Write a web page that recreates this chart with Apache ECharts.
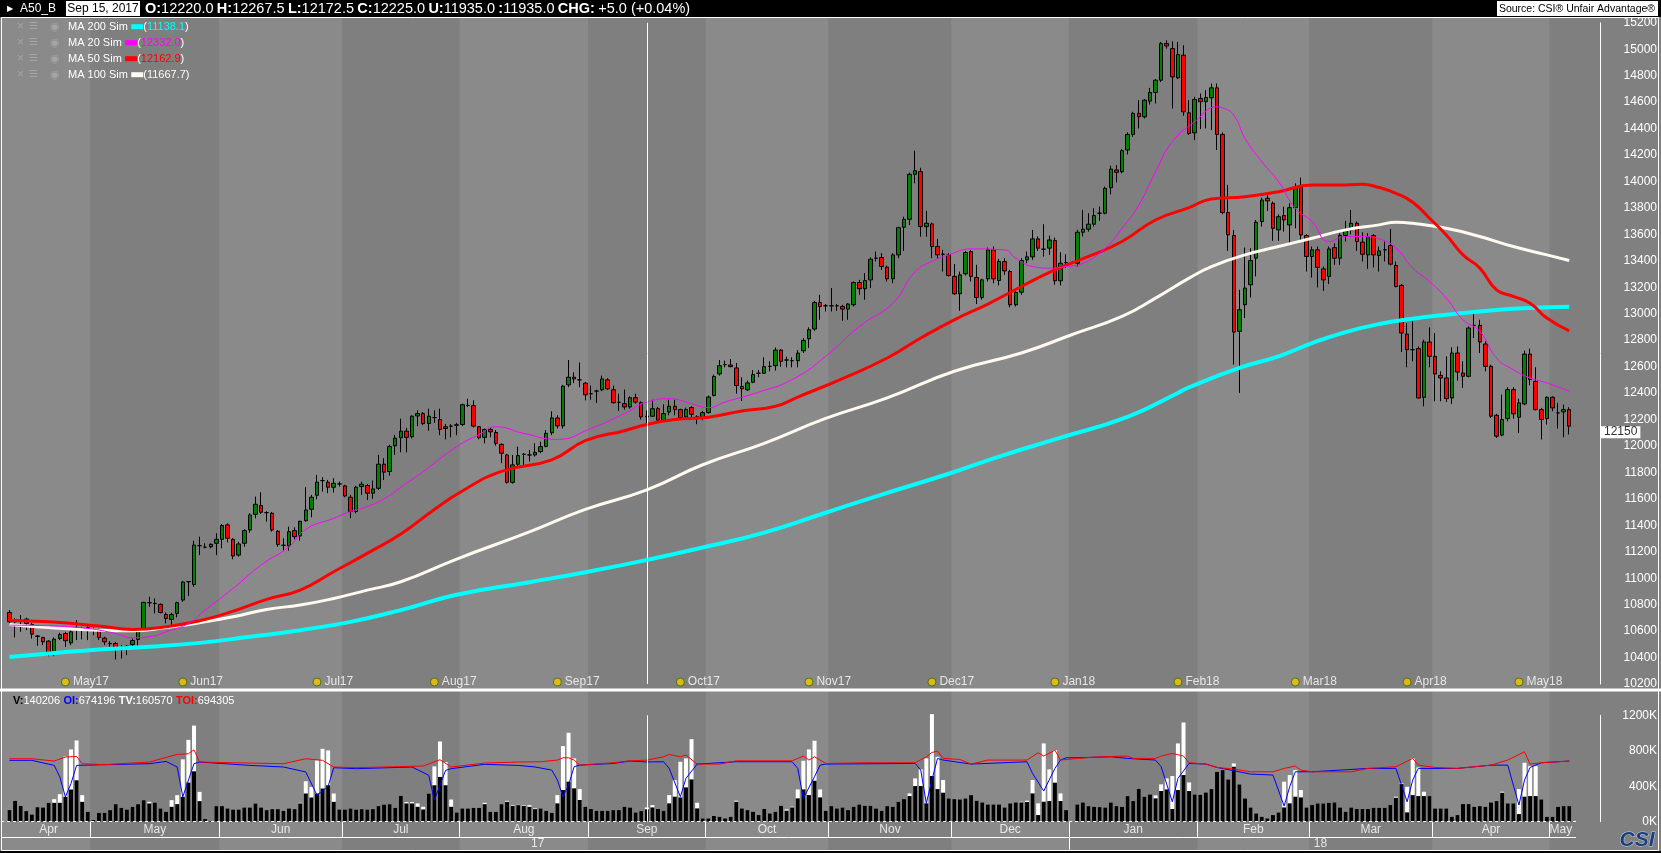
<!DOCTYPE html>
<html>
<head>
<meta charset="utf-8">
<title>A50_B</title>
<script src="https://cdn.jsdelivr.net/npm/echarts@6.0.0/dist/echarts.min.js"></script>
<style>
html, body { margin: 0; padding: 0; background: #808080; }
#main { width: 1661px; height: 853px; }
</style>
</head>
<body>
<div id="main"></div>
<script>
// trading slots: every weekday from 10 Apr 2017 to 4 May 2018
var monthKeys = ['2017-04','2017-05','2017-06','2017-07','2017-08','2017-09','2017-10','2017-11','2017-12','2018-01','2018-02','2018-03','2018-04','2018-05'];
var monthNames = ['Apr','May','Jun','Jul','Aug','Sep','Oct','Nov','Dec','Jan','Feb','Mar','Apr','May'];
var monthDays = [
    [10,11,12,13,14,17,18,19,20,21,24,25,26,27,28],
    [1,2,3,4,5,8,9,10,11,12,15,16,17,18,19,22,23,24,25,26,29,30,31],
    [1,2,5,6,7,8,9,12,13,14,15,16,19,20,21,22,23,26,27,28,29,30],
    [3,4,5,6,7,10,11,12,13,14,17,18,19,20,21,24,25,26,27,28,31],
    [1,2,3,4,7,8,9,10,11,14,15,16,17,18,21,22,23,24,25,28,29,30,31],
    [1,4,5,6,7,8,11,12,13,14,15,18,19,20,21,22,25,26,27,28,29],
    [2,3,4,5,6,9,10,11,12,13,16,17,18,19,20,23,24,25,26,27,30,31],
    [1,2,3,6,7,8,9,10,13,14,15,16,17,20,21,22,23,24,27,28,29,30],
    [1,4,5,6,7,8,11,12,13,14,15,18,19,20,21,22,25,26,27,28,29],
    [1,2,3,4,5,8,9,10,11,12,15,16,17,18,19,22,23,24,25,26,29,30,31],
    [1,2,5,6,7,8,9,12,13,14,15,16,19,20,21,22,23,26,27,28],
    [1,2,5,6,7,8,9,12,13,14,15,16,19,20,21,22,23,26,27,28,29,30],
    [2,3,4,5,6,9,10,11,12,13,16,17,18,19,20,23,24,25,26,27,30],
    [1,2,3,4]
];
var padSlots = 5;   // empty room right of the last bar

// daily bars [open, close, low, high]
var ohlc = [
// Apr 2017
[10741,10670,10658,10759],[10670,10672,10552,10696],[10678,10680,10595,10721],[10691,10658,10607,10701],[10650,10577,10544,10663],
[10563,10560,10489,10569],[10552,10519,10494,10557],[10524,10431,10410,10532],[10425,10539,10410,10552],[10544,10574,10532,10587],
[10582,10527,10481,10595],[10511,10595,10494,10607],[10620,10622,10532,10683],[10620,10620,10537,10633],[10625,10625,10532,10638],
// May
[10612,10614,10569,10627],[10612,10552,10532,10620],[10547,10519,10494,10557],[10506,10504,10481,10524],[10506,10466,10385,10519],
[10461,10460,10393,10494],[10461,10486,10418,10494],[10499,10529,10481,10544],[10537,10600,10489,10620],[10607,10817,10595,10822],
[10815,10815,10784,10860],[10810,10808,10734,10847],[10802,10741,10734,10809],[10726,10696,10658,10741],[10688,10726,10645,10739],
[10734,10815,10703,10822],[10835,10971,10822,10978],[10973,10975,10865,10978],[10953,11251,10936,11284],[11246,11246,11175,11314],
[11234,11234,11226,11264],[11238,11256,11226,11264],[11264,11294,11175,11340],
// Jun
[11294,11398,11226,11410],[11403,11302,11271,11415],[11294,11168,11143,11302],[11175,11259,11163,11276],[11264,11360,11238,11370],
[11365,11478,11345,11491],[11483,11559,11453,11617],[11549,11499,11486,11650],[11496,11496,11428,11506],[11491,11365,11352,11501],
[11355,11256,11238,11365],[11249,11249,11208,11302],[11244,11352,11208,11390],[11360,11314,11294,11385],[11319,11430,11284,11435],
[11435,11516,11428,11688],[11521,11612,11461,11630],[11627,11726,11597,11781],[11738,11738,11655,11764],[11726,11688,11643,11743],
[11688,11718,11648,11756],[11713,11713,11693,11731],
// Jul
[11698,11622,11612,11706],[11612,11504,11454,11630],[11504,11688,11491,11698],[11693,11711,11630,11731],[11701,11643,11592,11713],
[11643,11675,11600,11738],[11680,11862,11668,11933],[11862,11802,11743,11908],[11807,11996,11776,12009],[12001,12059,11933,12084],
[12062,12112,11952,12207],[12112,12065,11952,12137],[12070,12225,12057,12232],[12227,12245,12150,12270],[12245,12170,12157,12257],
[12170,12225,12115,12282],[12215,12215,12175,12270],[12200,12125,12082,12282],[12132,12145,12050,12165],[12150,12150,12065,12165],
[12157,12160,12082,12175],
// Aug
[12162,12312,12150,12320],[12307,12307,12295,12357],[12305,12150,12140,12345],[12145,12062,12050,12152],[12065,12125,12020,12132],
[12125,12107,12065,12137],[12102,12020,12002,12120],[12012,11945,11870,12020],[11932,11725,11715,11940],[11725,11857,11715,11932],
[11862,11927,11845,11995],[11937,11937,11857,11945],[11932,11932,11882,11970],[11932,11952,11920,12020],[11957,11995,11945,12032],
[11997,12095,11990,12120],[12100,12212,12082,12262],[12212,12152,12132,12232],[12152,12452,12132,12462],[12462,12520,12445,12650],
[12520,12507,12475,12557],[12500,12500,12445,12632],[12475,12387,12345,12482],
// Sep
[12395,12395,12350,12457],[12415,12415,12325,12425],[12425,12507,12415,12532],[12500,12432,12425,12512],[12425,12327,12320,12457],
[12330,12330,12265,12395],[12320,12295,12275,12427],[12295,12365,12282,12375],[12365,12332,12320,12395],[12327,12220,12200,12337],
[12220,12225,12172.5,12267.5],[12225,12282,12220,12350],[12282,12195,12190,12295],[12195,12245,12190,12315],[12257,12300,12232,12350],
[12300,12275,12232,12350],[12275,12215,12207,12282],[12220,12275,12215,12290],[12290,12240,12215,12300],[12220,12220,12165,12232],
[12207,12252,12195,12265],
// Oct
[12252,12370,12245,12382],[12382,12525,12375,12540],[12545,12607,12532,12650],[12615,12615,12595,12645],[12612,12600,12595,12657],
[12590,12457,12395,12627],[12450,12432,12340,12520],[12425,12477,12415,12495],[12482,12540,12475,12575],[12550,12550,12520,12575],
[12550,12600,12545,12670],[12602,12602,12565,12640],[12607,12725,12570,12745],[12725,12640,12600,12732],[12650,12650,12595,12675],
[12645,12645,12595,12670],[12645,12702,12595,12725],[12720,12798,12703,12816],[12811,12879,12741,12897],[12884,13085,12871,13098],
[13085,13055,12954,13143],[13060,13060,13017,13073],
// Nov
[13060,13060,13017,13194],[13060,13060,13022,13073],[13055,13035,12947,13068],[13035,13073,12954,13080],[13068,13236,13055,13244],
[13236,13189,13143,13256],[13189,13251,13106,13307],[13256,13412,13194,13425],[13420,13420,13395,13470],[13425,13357,13332,13458],
[13352,13264,13244,13365],[13264,13445,13231,13458],[13445,13651,13420,13659],[13654,13714,13475,13734],[13714,14054,13671,14067],
[14054,14082,13986,14233],[14074,13659,13583,14104],[13659,13684,13583,13777],[13679,13508,13420,13689],[13508,13445,13415,13566],
[13450,13450,13319,13483],[13445,13289,13282,13458],
// Dec
[13282,13151,13143,13375],[13151,13294,13022,13319],[13302,13463,13289,13475],[13470,13282,13244,13483],[13274,13123,13073,13370],
[13123,13256,13106,13264],[13264,13483,13244,13500],[13483,13264,13231,13508],[13251,13395,13214,13415],[13395,13324,13294,13420],
[13319,13068,13048,13332],[13068,13161,13055,13173],[13163,13402,13143,13420],[13407,13430,13382,13470],[13430,13566,13407,13634],
[13566,13496,13475,13584],[13488,13488,13432,13677],[13496,13558,13445,13591],[13553,13249,13219,13576],[13249,13382,13214,13465],
[13387,13387,13345,13450],
// Jan 2018 (no bar on 1 Jan)
'-',
[13382,13616,13357,13634],[13616,13639,13584,13785],[13639,13677,13621,13760],[13677,13742,13659,13797],[13760,13760,13702,13810],
[13760,13948,13752,13961],[13953,14094,13903,14119],[14087,14069,13994,14124],[14074,14233,14062,14245],[14238,14356,14205,14371],
[14356,14515,14338,14527],[14515,14489,14401,14615],[14489,14615,14477,14623],[14608,14673,14582,14708],[14673,14766,14590,14774],
[14766,15043,14753,15055],[15043,15025,15005,15068],[15005,14791,14552,15060],[14784,14960,14774,15055],[14955,14527,14497,15030],
[14519,14363,14351,14615],[14368,14620,14313,14640],
// Feb
[14628,14603,14396,14665],[14603,14635,14401,14691],[14633,14708,14389,14741],[14708,14356,14238,14741],[14356,13765,13752,14371],
[13765,13596,13475,13974],[13591,12861,12615,13634],[12867,13030,12401,13181],[13068,13194,12967,13500],[13219,13402,13123,13495],
[13420,13692,13282,13709],[13697,13860,13659,13878],[13873,13853,13777,13911],[13835,13646,13551,13848],[13634,13734,13551,13752],
[13742,13709,13621,13810],[13671,13802,13526,13835],[13802,13953,13646,13986],[13961,13596,13546,14029],[13591,13433,13319,13601],
// Mar
[13433,13483,13274,13508],[13483,13350,13199,13508],[13339,13256,13173,13357],[13282,13490,13224,13508],[13500,13420,13370,13533],
[13420,13591,13370,13609],[13591,13634,13546,13702],[13634,13684,13601,13785],[13684,13546,13475,13697],[13541,13450,13395,13616],
[13445,13583,13339,13609],[13591,13445,13350,13601],[13440,13475,13319,13508],[13483,13483,13395,13546],[13516,13375,13365,13641],
[13365,13206,13199,13395],[13214,12854,12710,13224],[12846,12728,12595,12929],[12728,12728,12640,12967],[12736,12363,12358,12753],
[12368,12786,12300,12803],[12786,12678,12595,12897],
// Apr
[12678,12544,12338,12854],[12534,12514,12338,12565],[12514,12358,12333,12678],[12363,12703,12318,12746],[12703,12559,12494,12753],
[12552,12527,12439,12640],[12527,12892,12519,12904],[12912,12912,12816,12997],[12912,12786,12703,12955],[12771,12602,12564,12791],
[12602,12225,12212,12615],[12232,12074,12061,12243],[12082,12200,12074,12389],[12207,12426,12187,12444],[12426,12243,12207,12444],
[12217,12326,12099,12358],[12318,12695,12308,12721],[12695,12502,12459,12736],[12489,12275,12268,12595],[12275,12200,12049,12288],
[12207,12368,12162,12376],
// May
[12368,12288,12263,12376],[12250,12250,12132,12326],[12258,12275,12066,12313],[12275,12150,12087,12293]
];

// moving averages: [slot, value]
var ma200 = [[0,10405],[7,10430],[16,10461],[25,10481],[34,10511],[43,10557],[52,10607],[61,10670],[70,10759],[80,10875],[93,10970],[103,11045],[114,11138],[124,11232],[135,11345],[146,11495],[156,11632],[168,11790],[177,11920],[187,12050],[200,12220],[209,12401],[211,12444],[220,12590],[227,12678],[233,12778],[239,12861],[245,12922],[251,12962],[257,12992],[263,13017],[269,13037],[279,13052]];
var ma100 = [[0,10650],[7,10627],[16,10607],[22,10602],[28,10627],[34,10663],[40,10708],[46,10764],[52,10797],[58,10847],[64,10910],[70,10973],[80,11145],[93,11350],[103,11520],[114,11668],[124,11858],[135,12020],[146,12208],[157,12363],[169,12565],[181,12703],[190,12841],[199,12980],[205,13118],[211,13269],[215,13357],[221,13445],[227,13508],[233,13571],[239,13634],[245,13672],[248,13692],[251,13684],[257,13646],[263,13584],[269,13508],[275,13445],[279,13402]];
var ma50 = [[0,10683],[7,10670],[16,10639],[22,10613],[28,10633],[34,10678],[40,10751],[46,10840],[52,10910],[58,11049],[64,11188],[70,11334],[76,11520],[81,11660],[88,11808],[97,11895],[103,12040],[110,12115],[114,12163],[119,12200],[125,12218],[131,12265],[137,12300],[141,12370],[149,12509],[157,12665],[163,12816],[169,12954],[175,13073],[181,13206],[187,13332],[193,13433],[199,13546],[205,13709],[211,13802],[215,13868],[221,13885],[227,13923],[233,13974],[239,13974],[242,13979],[245,13954],[248,13911],[251,13843],[254,13722],[257,13596],[260,13445],[263,13345],[266,13181],[269,13131],[272,13080],[275,12967],[279,12871]];
var ma20 = [[0,10645],[7,10640],[14,10620],[19,10582],[22,10549],[25,10557],[28,10595],[32,10658],[35,10759],[40,10923],[45,11100],[50,11238],[53,11370],[58,11453],[61,11504],[64,11542],[67,11600],[70,11688],[74,11807],[80,11995],[84,12087],[87,12145],[92,12095],[98,12050],[104,12132],[110,12245],[114,12332],[118,12357],[122,12320],[125,12290],[128,12332],[134,12407],[140,12502],[146,12678],[152,12904],[158,13080],[162,13319],[165,13395],[168,13445],[172,13490],[178,13483],[180,13420],[183,13357],[186,13345],[189,13357],[192,13382],[196,13496],[199,13646],[202,13822],[205,14074],[208,14301],[212,14452],[216,14565],[217,14557],[219,14502],[221,14326],[224,14150],[227,13999],[230,13797],[233,13697],[236,13546],[239,13584],[242,13584],[245,13566],[248,13496],[251,13345],[254,13244],[257,13118],[260,12954],[263,12867],[266,12665],[269,12577],[272,12514],[275,12477],[279,12414]];

// volume (K): V = contract volume, TV = total volume
var volV = [
131,235,179,120,82,164,161,213,213,213, 280,363,467,224,112,19,101,101,131,198,
157,138,168,198,243,206,217,150,112,168, 198,280,441,568,232,30,11,176,176,150,
138,138,161,161,206,161,131,142,142,123, 150,142,206,318,273,318,374,411,224,138,
138,150,138,142,138,142,176,194,198,157, 292,206,206,168,138,318,411,505,411,168,
105,150,150,157,157,198,112,112,198,224, 179,187,179,168,142,150,124,101,207,357,
451,376,245,169,143,124,124,124,131,131, 169,161,105,120,140,161,143,124,207,282,
274,387,477,150,38,38,64,56,38,56, 225,150,131,113,75,143,94,113,180,124,
161,263,364,300,462,274,124,176,150,161, 131,169,195,180,180,150,124,176,169,225,
255,289,402,402,207,515,368,327,263,255, 252,263,300,237,218,195,195,195,161,207,
218,218,222,319,75,225,233,440,233,131, '-',195,218,176,169,165,161,218,176,169,
289,233,372,282,308,263,346,364,143,357, 526,346,308,304,330,368,563,582,477,620,
421,263,161,94,56,38,75,105,161,207, 282,274,161,188,207,207,214,218,161,113,
161,143,143,143,158,158,158,188,270,424, 105,300,289,289,289,150,150,150,56,75,
199,199,169,176,169,218,233,327,207,207, 86,282,289,289,252,56,56,169,176,176
];
var volTV = [
131,235,179,120,82,164,161,213,254,310, 736,815,916,299,112,19,101,101,131,198,
157,138,168,198,243,224,217,150,112,243, 299,703,923,1084,336,30,11,176,176,150,
138,138,161,161,206,161,131,142,142,123, 150,142,213,456,392,692,822,804,318,138,
138,150,138,142,138,142,176,194,198,157, 292,221,221,206,168,318,624,905,673,250,
105,150,150,157,157,213,112,112,198,235, 187,190,187,187,150,150,124,101,300,853,
1003,714,368,169,143,124,124,124,131,131, 169,161,105,120,161,187,143,124,300,470,
676,714,931,214,38,38,64,56,38,56, 237,150,131,113,75,143,94,113,180,139,
169,364,687,815,913,364,124,176,150,161, 131,169,195,180,180,150,124,176,169,225,
255,319,488,590,714,1213,732,470,263,255, 252,263,300,237,218,195,195,195,161,207,
218,225,237,470,207,883,590,808,319,131, '-',195,218,176,169,165,161,218,176,169,
289,233,372,282,308,297,421,488,515,883, 1119,443,308,304,330,368,563,582,477,657,
421,263,161,94,56,38,75,105,451,526, 582,357,161,188,207,207,214,218,161,113,
161,143,143,143,158,158,158,188,282,432, 394,714,612,338,289,150,150,150,56,75,
199,199,169,176,169,218,233,338,207,207, 368,665,627,627,252,56,56,169,176,176
];
// open interest (K): OI of the contract and total OI, [slot, value]
var oiPts = [[0,692],[4,692],[8,635],[9,505],[10,280],[11,430],[12,635],[17,643],[25,654],[28,680],[30,617],[31,280],[33,654],[34,673],[43,635],[49,617],[53,561],[55,299],[57,400],[58,609],[62,598],[72,617],[75,523],[76,243],[78,579],[79,598],[85,647],[91,635],[94,617],[97,582],[98,470],[99,282],[100,413],[101,620],[102,638],[108,657],[111,684],[114,674],[117,676],[118,601],[120,282],[121,488],[123,650],[130,676],[140,676],[141,601],[142,263],[144,507],[145,638],[146,650],[162,657],[163,582],[164,207],[165,470],[166,714],[167,695],[172,650],[182,676],[183,545],[185,346],[187,601],[188,695],[189,721],[191,721],[197,732],[200,714],[205,695],[206,620],[208,225],[209,488],[211,657],[214,650],[216,612],[222,537],[226,526],[228,177],[229,394],[230,563],[233,563],[243,601],[248,601],[250,225],[251,470],[252,601],[259,601],[265,638],[268,638],[270,188],[271,470],[272,612],[274,665],[279,684]];
var toiPts = [[0,710],[4,710],[8,684],[10,729],[12,736],[13,654],[17,643],[25,673],[30,759],[32,766],[33,811],[34,673],[40,665],[49,654],[53,710],[56,692],[58,617],[62,609],[74,628],[77,699],[79,617],[85,662],[91,673],[95,676],[98,695],[99,721],[100,721],[101,695],[102,638],[108,665],[111,687],[114,694],[117,732],[118,759],[120,732],[121,751],[123,650],[127,650],[130,687],[140,687],[142,740],[143,695],[144,732],[146,657],[153,665],[162,665],[164,732],[165,781],[166,796],[167,714],[170,702],[172,650],[175,695],[182,695],[184,777],[185,740],[187,807],[188,695],[191,714],[195,732],[200,740],[201,714],[205,714],[206,740],[208,770],[210,740],[211,665],[214,650],[216,612],[219,593],[222,563],[226,563],[228,601],[230,627],[231,582],[233,563],[240,563],[243,601],[248,620],[251,714],[252,638],[255,612],[259,601],[265,638],[268,695],[271,789],[272,650],[274,665],[279,684]];

// contract roll markers on the price chart
var rollSlots = [10,31,55,76,98,120,143,165,187,209,230,250,270];
var rollNames = ['May17','Jun17','Jul17','Aug17','Sep17','Oct17','Nov17','Dec17','Jan18','Feb18','Mar18','Apr18','May18'];

var cursorSlot = 114;   // Sep 15, 2017
var lastPrice = 12150;

// ---- derived layout helpers ----
var dates = [];
var monthStart = [], monthEnd = [];
monthKeys.forEach(function (m, i) {
    monthStart.push(dates.length);
    monthDays[i].forEach(function (d) { dates.push(m + '-' + (d < 10 ? '0' + d : d)); });
    monthEnd.push(dates.length - 1);
});
var nData = dates.length;
for (var k = 0; k < padSlots; k++) dates.push('pad' + k);
var nSlots = dates.length;
var yearStart = monthStart[9];

var LIGHT = '#8a8a8a', DARK = '#7f7f7f';
var bands = monthStart.map(function (s, i) {
    var a = i === 0 ? -1.5 : s - 0.5;
    var b = i === monthStart.length - 1 ? nSlots - 0.5 : monthEnd[i] + 0.5;
    return [{ xAxis: a, itemStyle: { color: i % 2 === 0 ? LIGHT : DARK } }, { xAxis: b }];
});

// time scale under the volume panel, in pixel rows of the background grid (top = 18)
var rowBase = 803.7, rowMid = 819, rowEnd = 832;
var scaleEnd = nData + 0.2;
var timeLabels = monthStart.map(function (s, i) {
    return { name: monthNames[i], value: [(s + monthEnd[i]) / 2, 811.5] };
});
timeLabels.push({ name: '17', value: [(yearStart - 1) / 2, 826] });
timeLabels.push({ name: '18', value: [(yearStart + nData - 1) / 2, 826] });
var timeLines = [];
monthStart.forEach(function (s, i) {
    if (i > 0) timeLines.push([{ coord: [s - 0.5, rowBase] }, { coord: [s - 0.5, rowMid] }]);
});
timeLines.push([{ coord: [yearStart - 0.5, rowMid] }, { coord: [yearStart - 0.5, rowEnd] }]);
timeLines.push([{ coord: [-1.5, rowMid] }, { coord: [scaleEnd, rowMid] }]);
timeLines.push([{ coord: [-1.5, rowBase], lineStyle: { type: [3, 3] } }, { coord: [scaleEnd, rowBase] }]);

var FONT = '"Liberation Sans", Arial, sans-serif';
var slotW = 5.5905;
var gridL = 6.7, gridW = slotW * nSlots;

var myChart = echarts.init(document.getElementById('main'), null, { width: 1661, height: 853 });

var dotted = { color: '#d4d4d4', width: 1, type: [1, 8] };

function legendRow(y, name, color, val) {
    return [
        { type: 'text', z: 101, x: 17, y: y, style: { text: '\u00d7', fill: '#a6a6a6', font: '12px ' + FONT, verticalAlign: 'middle' } },
        { type: 'text', z: 101, x: 29, y: y, style: { text: '\u2630', fill: '#a6a6a6', font: '10px ' + FONT, verticalAlign: 'middle' } },
        { type: 'text', z: 101, x: 50, y: y, style: { text: '\u25c9', fill: '#a6a6a6', font: '11px ' + FONT, verticalAlign: 'middle' } },
        { type: 'text', z: 101, x: 68, y: y, style: {
            text: '{t|' + name + '} {s| }{t|(}{v|' + val + '}{t|)}',
            verticalAlign: 'middle',
            rich: {
                t: { fill: '#ffffff', fontSize: 11, fontFamily: FONT },
                s: { width: 12, height: 5, backgroundColor: color, fontSize: 5 },
                v: { fill: color, fontSize: 11, fontFamily: FONT }
            }
        } }
    ];
}

var graphics = [
    { type: 'rect', z: 100, shape: { x: 0, y: 0, width: 1661, height: 17 }, style: { fill: '#000' } },
    { type: 'rect', z: 100, shape: { x: 0, y: 851, width: 1661, height: 2 }, style: { fill: '#000' } },
    { type: 'rect', z: 100, shape: { x: 1.5, y: 17.5, width: 1657, height: 833 }, style: { fill: 'none', stroke: '#ffffff', lineWidth: 1 } },
    { type: 'line', z: 100, shape: { x1: 0, y1: 690, x2: 1661, y2: 690 }, style: { stroke: '#ffffff', lineWidth: 3 } },
    { type: 'text', z: 101, x: 7, y: 9, style: { text: '\u25b6', fill: '#ffffff', font: '8px ' + FONT, verticalAlign: 'middle' } },
    { type: 'text', z: 101, x: 20, y: 9, style: { text: 'A50_B', fill: '#ffffff', font: '12px ' + FONT, verticalAlign: 'middle' } },
    { type: 'rect', z: 100, shape: { x: 66, y: 1, width: 74, height: 15 }, style: { fill: '#ffffff' } },
    { type: 'text', z: 101, x: 103, y: 9, style: { text: 'Sep 15, 2017', fill: '#000', font: '12px ' + FONT, align: 'center', verticalAlign: 'middle' } },
    { type: 'text', z: 101, x: 145, y: 9, style: {
        text: '{b|O:}{n|12220.0} {b|H:}{n|12267.5} {b|L:}{n|12172.5} {b|C:}{n|12225.0} {b|U:}{n|11935.0} {b|:}{n|11935.0} {b|CHG:} {n|+5.0 (+0.04%)}',
        verticalAlign: 'middle',
        rich: {
            b: { fill: '#ffffff', fontSize: 14.5, fontWeight: 'bold', fontFamily: FONT },
            n: { fill: '#ffffff', fontSize: 14.5, fontFamily: FONT }
        }
    } },
    { type: 'rect', z: 100, shape: { x: 1497, y: 1, width: 161, height: 15 }, style: { fill: '#ffffff' } },
    { type: 'text', z: 101, x: 1577, y: 9, style: { text: 'Source: CSI\u00ae Unfair Advantage\u00ae', fill: '#000', font: '10.5px ' + FONT, align: 'center', verticalAlign: 'middle' } },
    { type: 'text', z: 101, x: 13, y: 701, style: {
        text: '{k|V:}{w|140206} {bl|OI:}{w|674196} {wb|TV:}{w|160570} {r|TOI:}{w|694305}',
        verticalAlign: 'middle',
        rich: {
            k: { fill: '#000000', fontSize: 11, fontWeight: 'bold', fontFamily: FONT },
            bl: { fill: '#0000ff', fontSize: 11, fontWeight: 'bold', fontFamily: FONT },
            wb: { fill: '#ffffff', fontSize: 11, fontWeight: 'bold', fontFamily: FONT },
            r: { fill: '#ff0000', fontSize: 11, fontWeight: 'bold', fontFamily: FONT },
            w: { fill: '#ffffff', fontSize: 11, fontFamily: FONT }
        }
    } },
    { type: 'text', z: 101, x: 1637, y: 840, style: { text: 'CSI', fill: '#1d3f7a', stroke: '#c9d3e6', lineWidth: 1, font: 'italic 900 21px ' + FONT, align: 'center', verticalAlign: 'middle' } }
];
graphics = graphics
    .concat(legendRow(26.7, 'MA 200 Sim', '#00ffff', '11138.1'))
    .concat(legendRow(42.7, 'MA 20 Sim', '#ff00ff', '12332.0'))
    .concat(legendRow(58.7, 'MA 50 Sim', '#ff0000', '12162.9'))
    .concat(legendRow(74.7, 'MA 100 Sim', '#fffaf0', '11667.7'));

function maLine(name, data, color, width) {
    return {
        name: name, type: 'line', xAxisIndex: 0, yAxisIndex: 0,
        data: data, smooth: true, symbol: 'none', silent: true,
        lineStyle: { color: color, width: width }
    };
}

option = {
    backgroundColor: '#808080',
    animation: false,
    textStyle: { fontFamily: FONT },
    grid: [
        { left: gridL, width: gridW, top: 22.8, height: 661.2, outerBoundsMode: 'none' },
        { left: gridL, width: gridW, top: 715.3, height: 106.4, outerBoundsMode: 'none' },
        { left: gridL - slotW, width: gridW + slotW, top: 18, height: 832, outerBoundsMode: 'none' }
    ],
    xAxis: [
        { type: 'category', gridIndex: 0, data: dates, boundaryGap: true, show: false },
        { type: 'category', gridIndex: 1, data: dates, boundaryGap: true, show: false },
        { type: 'value', gridIndex: 2, min: -1.5, max: nSlots - 0.5, show: false }
    ],
    yAxis: [
        {
            type: 'value', gridIndex: 0, position: 'right', min: 10200, max: 15200, interval: 200,
            axisLine: { show: true, lineStyle: { color: '#ffffff' } },
            axisTick: { show: false },
            axisLabel: { color: '#ffffff', fontSize: 12, align: 'right', margin: 57, formatter: function (v) { return String(v); } },
            splitLine: { show: true, lineStyle: dotted }
        },
        {
            type: 'value', gridIndex: 1, position: 'right', min: 0, max: 1200, interval: 400,
            axisLine: { show: true, lineStyle: { color: '#ffffff' } },
            axisTick: { show: false },
            axisLabel: { color: '#ffffff', fontSize: 12, align: 'right', margin: 57, formatter: function (v) { return v + 'K'; } },
            splitLine: { show: true, lineStyle: dotted }
        },
        { type: 'value', gridIndex: 2, min: 0, max: 832, inverse: true, show: false }
    ],
    series: [
        {
            type: 'line', xAxisIndex: 2, yAxisIndex: 2, z: -1, silent: true,
            data: [[0, -10]], symbol: 'none', lineStyle: { opacity: 0 },
            markArea: { silent: true, data: bands }
        },
        maLine('MA 200 Sim', ma200, '#00ffff', 4),
        maLine('MA 100 Sim', ma100, '#fffaf0', 3),
        maLine('MA 50 Sim', ma50, '#ff0000', 3),
        maLine('MA 20 Sim', ma20, '#ff00ff', 1),
        {
            name: 'A50_B', type: 'candlestick', xAxisIndex: 0, yAxisIndex: 0,
            data: ohlc, barWidth: 4,
            itemStyle: { color: '#008000', color0: '#ff0000', borderColor: '#000000', borderColor0: '#000000', borderWidth: 1 },
            markLine: {
                symbol: 'none', silent: true, animation: false,
                data: [
                    { xAxis: dates[cursorSlot], lineStyle: { color: '#ffffff', width: 1, type: 'solid' }, label: { show: false } },
                    {
                        yAxis: lastPrice, lineStyle: { color: 'rgba(0,0,0,0)', width: 1 },
                        label: { show: true, position: 'end', distance: 1, formatter: String(lastPrice), backgroundColor: '#ffffff', color: '#333333', fontSize: 12, padding: [0, 3], offset: [0, 6] }
                    }
                ]
            }
        },
        {
            type: 'scatter', xAxisIndex: 0, yAxisIndex: 0, symbolSize: 8, z: 5, silent: true,
            itemStyle: { color: '#f2c500', borderColor: '#2f6a00', borderWidth: 1 },
            label: { show: true, position: 'right', distance: 3, color: '#ffffff', fontSize: 12, formatter: function (p) { return p.name; } },
            data: rollSlots.map(function (s, i) { return { name: rollNames[i], value: [s, 10215] }; })
        },
        {
            name: 'TV', type: 'bar', xAxisIndex: 1, yAxisIndex: 1, data: volTV, barWidth: 4,
            clip: false, silent: true, itemStyle: { color: '#ffffff' }
        },
        {
            name: 'V', type: 'bar', xAxisIndex: 1, yAxisIndex: 1, data: volV, barWidth: 4, barGap: '-100%',
            silent: true, itemStyle: { color: '#000000' },
            markLine: {
                symbol: 'none', silent: true, animation: false,
                data: [{ xAxis: dates[cursorSlot], lineStyle: { color: '#ffffff', width: 1, type: 'solid' }, label: { show: false } }]
            }
        },
        {
            name: 'OI', type: 'line', xAxisIndex: 1, yAxisIndex: 1, data: oiPts, symbol: 'none', silent: true,
            lineStyle: { color: '#0000ff', width: 1 }
        },
        {
            name: 'TOI', type: 'line', xAxisIndex: 1, yAxisIndex: 1, data: toiPts, symbol: 'none', silent: true,
            lineStyle: { color: '#ff0000', width: 1 }
        },
        {
            type: 'scatter', xAxisIndex: 2, yAxisIndex: 2, z: 5, silent: true,
            symbolSize: 1, itemStyle: { color: 'rgba(0,0,0,0)' },
            label: { show: true, position: 'inside', color: '#ffffff', fontSize: 12, formatter: function (p) { return p.name; } },
            data: timeLabels,
            markLine: {
                symbol: 'none', silent: true, animation: false,
                label: { show: false },
                lineStyle: { color: '#ffffff', width: 1, type: 'solid' },
                data: timeLines
            }
        }
    ],
    graphic: { elements: graphics }
};
myChart.setOption(option);
</script>
</body>
</html>
